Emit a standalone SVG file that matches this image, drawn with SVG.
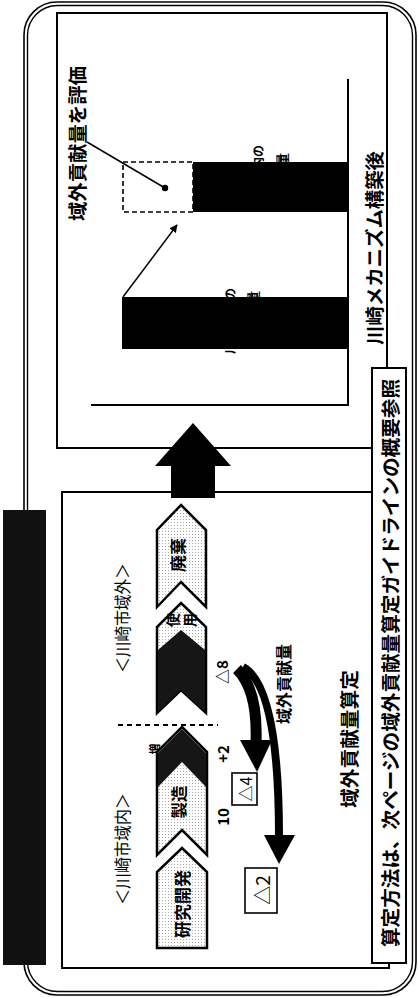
<svg xmlns="http://www.w3.org/2000/svg" width="418" height="998" viewBox="0 0 418 998">
<defs>
<style>
.t{font-family:"Noto Sans CJK JP","Noto Sans",sans-serif;fill:#000;text-anchor:middle;dominant-baseline:central}
.b{font-weight:bold}
.ln{fill:none;stroke:#000;stroke-width:2}
.chev{fill:url(#dots);stroke:#000;stroke-width:2.5;stroke-linejoin:miter}
.dark{fill:#161616}
</style>
<pattern id="dots" width="3" height="3" patternUnits="userSpaceOnUse">
<rect width="3" height="3" fill="#ffffff"/>
<rect width="1" height="1" fill="#a8a8a8"/>
</pattern>
<marker id="ah" viewBox="0 0 10 10" refX="9" refY="5" markerWidth="8" markerHeight="8" orient="auto" markerUnits="userSpaceOnUse">
<path d="M0,0 L10,5 L0,10 z" fill="#000"/>
</marker>
</defs>
<rect width="418" height="998" fill="#fff"/>

<g id="frame">
<rect x="24" y="2" width="392" height="993" rx="33" fill="none" stroke="#000" stroke-width="1.6"/>
<rect x="27.5" y="5.5" width="385" height="986" rx="30" fill="none" stroke="#000" stroke-width="1.4"/>
<rect x="3" y="510" width="43" height="455" fill="#111"/>
</g>

<g id="chart-box">
<rect x="57" y="13" width="330" height="435" fill="#fff" stroke="#000" stroke-width="2"/>
<line x1="348" y1="79" x2="348" y2="405" class="ln"/>
<line x1="91" y1="405" x2="349" y2="405" class="ln"/>
</g>

<g id="bar-before">
<rect x="122" y="297" width="226" height="52" fill="#000"/>
<text class="t b" font-size="12" transform="translate(229,321) rotate(-90)" textLength="66" lengthAdjust="spacing">川崎市内の</text>
<text class="t b" font-size="13" transform="translate(252,318) rotate(-90)" textLength="54" lengthAdjust="spacing">排出量</text>
</g>

<g id="bar-after">
<rect x="193" y="162" width="155" height="50" fill="#000"/>
<rect x="123" y="162" width="70" height="50" fill="none" stroke="#000" stroke-width="1.6" stroke-dasharray="5,3"/>
<text class="t b" font-size="12" transform="translate(257,175) rotate(-90)" textLength="60" lengthAdjust="spacing">川崎市内の</text>
<text class="t b" font-size="13" transform="translate(281,178) rotate(-90)" textLength="50" lengthAdjust="spacing">排出量</text>
</g>

<g id="label-evaluate">
<text class="t b" font-size="19" transform="translate(76,143.5) rotate(-90)" textLength="155" lengthAdjust="spacingAndGlyphs">域外貢献量を評価</text>
<circle cx="165" cy="188" r="3.2" fill="#000"/>
</g>

<g id="label-after">
<text class="t b" font-size="19" transform="translate(373,248) rotate(-90)" textLength="194" lengthAdjust="spacingAndGlyphs">川崎メカニズム構築後</text>
</g>

<g id="calc-box">
<rect x="62" y="492" width="327" height="476" fill="#fff" stroke="#000" stroke-width="2"/>
<text class="t" font-size="17" transform="translate(121,618) rotate(-90)" textLength="110" lengthAdjust="spacingAndGlyphs">＜川崎市域外＞</text>
<text class="t" font-size="17" transform="translate(121,849) rotate(-90)" textLength="112" lengthAdjust="spacingAndGlyphs">＜川崎市域内＞</text>
<line x1="118" y1="725" x2="218" y2="725" stroke="#000" stroke-width="2" stroke-dasharray="5,4"/>
<text class="t b" font-size="19" transform="translate(348,739) rotate(-90)" textLength="138" lengthAdjust="spacingAndGlyphs">域外貢献量算定</text>
</g>

<g id="chev-haiki">
<polygon class="chev" points="181,505 206,530 206,607 181,582 157,607 157,530"/>
<text class="t b" font-size="16" transform="translate(177,555) rotate(-90)" textLength="34" lengthAdjust="spacingAndGlyphs">廃棄</text>
</g>

<g id="chev-shiyou">
<polygon class="chev" points="181,603 206,627 206,713 181,690 157,713 157,627"/>
<polygon class="dark" points="181,630 205,650 205,712 181,690 158,712 158,650"/>
<text class="t b" font-size="14" transform="translate(172,620) rotate(-90)">使</text>
<text class="t b" font-size="14" transform="translate(189,620) rotate(-90)">用</text>
</g>

<g id="chev-seizou">
<polygon class="chev" points="182,727 207,752 207,855 182,830 157,855 157,752"/>
<polygon class="dark" points="182,729 206,753 206,787 182,762 158,787 158,753"/>
<text class="t b" font-size="16" transform="translate(178,802) rotate(-90)" textLength="33" lengthAdjust="spacingAndGlyphs">製造</text>
<text class="t b" font-size="11" transform="translate(154,749) rotate(-90)">増</text>
</g>

<g id="chev-kenkyu">
<polygon class="chev" points="182,848 207,872 207,948 157,948 157,872"/>
<text class="t b" font-size="17" transform="translate(181,904) rotate(-90)" textLength="68" lengthAdjust="spacingAndGlyphs">研究開発</text>
</g>

<g id="values">
<text class="t b" font-size="15" transform="translate(221,672) rotate(-90)">△8</text>
<text class="t b" font-size="15" transform="translate(222,754) rotate(-90)">+2</text>
<text class="t b" font-size="15" transform="translate(222,817) rotate(-90)">10</text>
<g id="box-d4">
<rect x="232" y="773" width="25" height="32" fill="#fff" stroke="#000" stroke-width="1.6"/>
<text class="t" font-size="16" transform="translate(245,789) rotate(-90)">△4</text>
</g>
<g id="box-d2">
<rect x="245" y="868" width="32" height="45" fill="#fff" stroke="#000" stroke-width="1.6"/>
<text class="t" font-size="19" transform="translate(261,890) rotate(-90)">△2</text>
</g>
<text class="t b" font-size="16" transform="translate(283,684) rotate(-90)" textLength="80" lengthAdjust="spacingAndGlyphs">域外貢献量</text>
</g>

<g id="caption">
<rect x="372" y="368" width="34" height="595" fill="#fff" stroke="#000" stroke-width="2"/>
<text class="t b" font-size="19.5" transform="translate(389,663) rotate(-90)" textLength="568" lengthAdjust="spacingAndGlyphs">算定方法は、次ページの域外貢献量算定ガイドラインの概要参照</text>
</g>

<g id="connectors">
<line x1="87" y1="142" x2="165" y2="188" stroke="#000" stroke-width="1.5"/>
<line x1="123" y1="297" x2="177" y2="225" stroke="#000" stroke-width="1.5" marker-end="url(#ah)"/>
<polygon points="193,423 231,466 215,466 215,498 171,498 171,466 155,466" fill="#000"/>
<path d="M237,669 Q258,690 256,742" fill="none" stroke="#000" stroke-width="11"/>
<polygon points="240,740 272,740 257,772" fill="#000"/>
<path d="M243,667 Q279,686 279,837" fill="none" stroke="#000" stroke-width="8"/>
<polygon points="264,835 295,835 279,864" fill="#000"/>
</g>
</svg>
